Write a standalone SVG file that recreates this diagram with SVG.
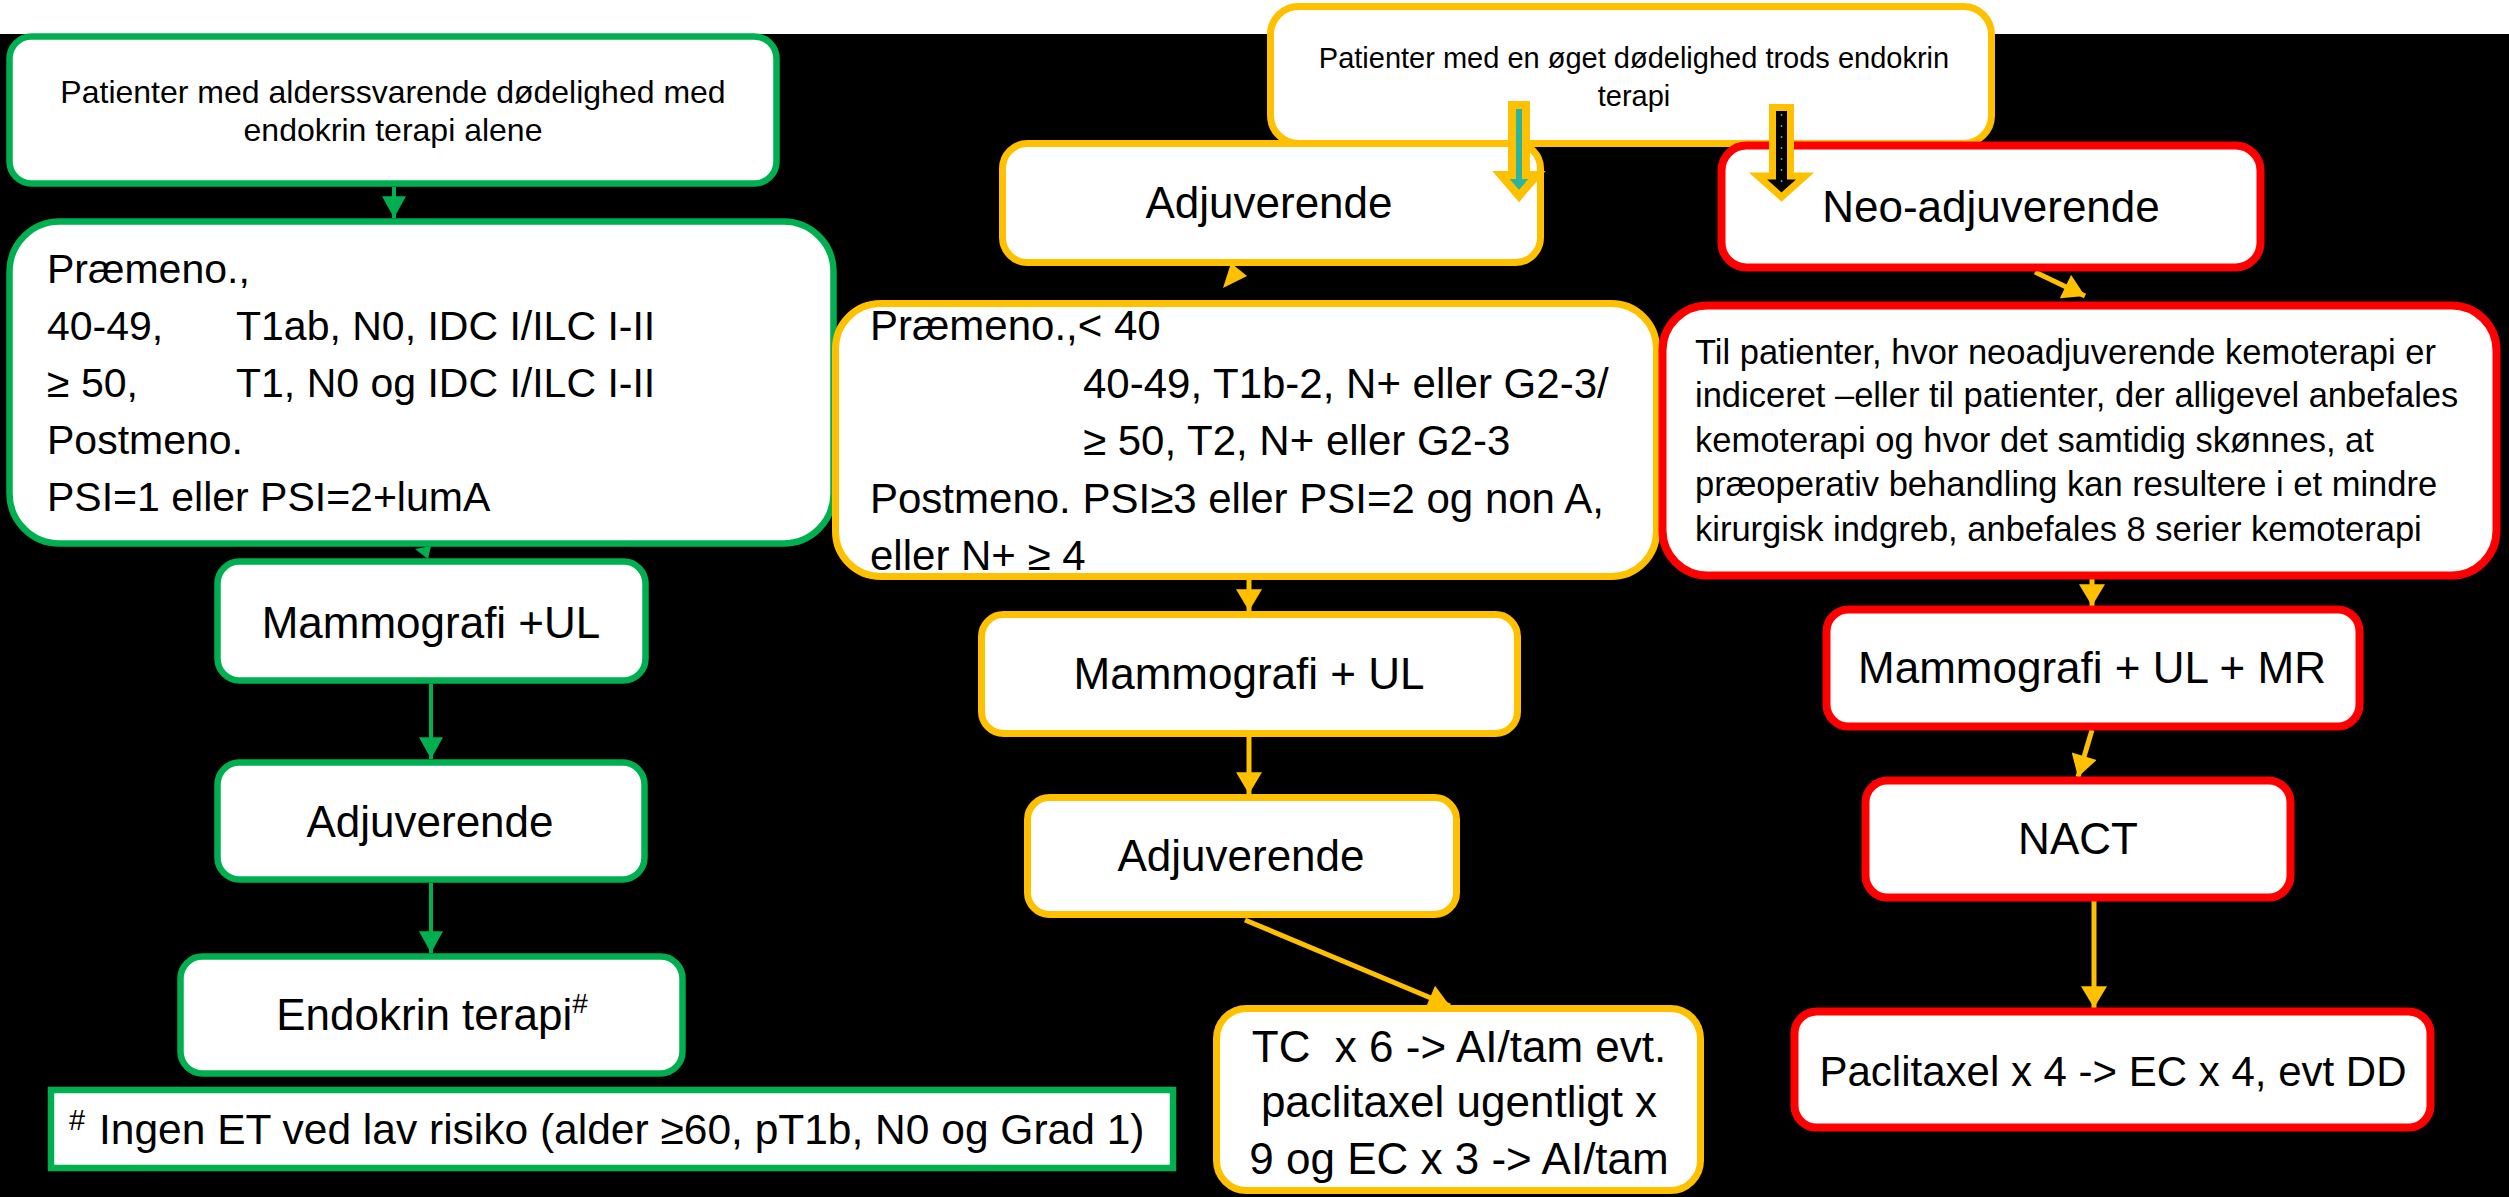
<svg xmlns="http://www.w3.org/2000/svg" width="2509" height="1197" viewBox="0 0 2509 1197">
<defs>
<style>
.g{fill:#fff;stroke:#00B050;stroke-width:6.5}
.y{fill:#fff;stroke:#FFC000;stroke-width:7}
.r{fill:#fff;stroke:#FF0000;stroke-width:8}
text{font-family:"Liberation Sans",Arial,sans-serif;fill:#000}
.s32{font-size:32px}
.s29{font-size:29px}
.s41{font-size:41px}
.s42{font-size:42px}
.s44{font-size:44px}
.s34{font-size:34.5px}
.m{text-anchor:middle}
.cg{stroke:#00B050;stroke-width:4;fill:none}
.cy{stroke:#FFC000;stroke-width:5;fill:none}
</style>
<marker id="ag" markerUnits="userSpaceOnUse" markerWidth="24" markerHeight="24" viewBox="0 0 20 22" refX="20" refY="11" orient="auto">
<path d="M0,0 L20,11 L0,22 Z" fill="#00B050"/>
</marker>
<marker id="ay" markerUnits="userSpaceOnUse" markerWidth="24" markerHeight="26" viewBox="0 0 20 24" refX="20" refY="12" orient="auto">
<path d="M0,0 L20,12 L0,24 Z" fill="#FFC000"/>
</marker>
</defs>
<rect x="0" y="0" width="2509" height="1197" fill="#fff"/>
<rect x="0" y="34" width="2509" height="1163" fill="#000"/>

<g id="connectors">
<line class="cg" x1="394" y1="187" x2="394" y2="218" marker-end="url(#ag)"/>
<polygon points="415,549 431,546 428,559" fill="#00B050"/>
<line class="cg" x1="431" y1="684" x2="431" y2="759" marker-end="url(#ag)"/>
<line class="cg" x1="431" y1="883" x2="431" y2="953" marker-end="url(#ag)"/>
<polygon points="1223,288 1231,263 1247,276" fill="#FFC000"/>
<line class="cy" x1="1249" y1="580" x2="1249" y2="611" marker-end="url(#ay)"/>
<line class="cy" x1="1249" y1="737" x2="1249" y2="794" marker-end="url(#ay)"/>
<line class="cy" x1="1245" y1="920" x2="1450" y2="1006" stroke-width="6.5" marker-end="url(#ay)"/>
<line class="cy" x1="2035" y1="272" x2="2085" y2="296" marker-end="url(#ay)"/>
<line class="cy" x1="2092" y1="579" x2="2092" y2="606" marker-end="url(#ay)"/>
<line class="cy" x1="2092" y1="730" x2="2078" y2="777" marker-end="url(#ay)"/>
<line class="cy" x1="2094" y1="901" x2="2094" y2="1008" marker-end="url(#ay)"/>
</g>

<g id="g1">
<rect class="g" x="9.5" y="36.5" width="767" height="147" rx="22"/>
<text class="s32 m" x="393" y="103">Patienter med alderssvarende dødelighed med</text>
<text class="s32 m" x="393" y="141">endokrin terapi alene</text>
</g>
<g id="g2">
<rect class="g" x="9.5" y="221.5" width="824" height="322" rx="50"/>
<text class="s41" x="47" y="283">Præmeno.,</text>
<text class="s41" x="47" y="340">40-49,</text>
<text class="s41" x="236" y="340">T1ab, N0, IDC I/ILC I-II</text>
<text class="s41" x="47" y="397">≥ 50,</text>
<text class="s41" x="236" y="397">T1, N0 og IDC I/ILC I-II</text>
<text class="s41" x="47" y="454">Postmeno.</text>
<text class="s41" x="47" y="511">PSI=1 eller PSI=2+lumA</text>
</g>
<g id="g3">
<rect class="g" x="217.5" y="561.5" width="428" height="119" rx="22"/>
<text class="s44 m" x="431" y="638">Mammografi +UL</text>
</g>
<g id="g4">
<rect class="g" x="217.5" y="762.5" width="427" height="117" rx="22"/>
<text class="s44 m" x="430" y="837">Adjuverende</text>
</g>
<g id="g5">
<rect class="g" x="180.5" y="956.5" width="502" height="117" rx="22"/>
<text class="s44 m" x="432" y="1030">Endokrin terapi<tspan font-size="28" dy="-17">#</tspan></text>
</g>
<g id="footnote">
<rect x="51" y="1090" width="1122" height="78" fill="#fff" stroke="#00B050" stroke-width="6.5"/>
<text x="69" y="1130" font-size="29">#</text>
<text x="99" y="1144" font-size="42.5">Ingen ET ved lav risiko (alder ≥60, pT1b, N0 og Grad 1)</text>
</g>

<g id="y1">
<rect class="y" x="1270.5" y="6.5" width="721" height="137" rx="28"/>
<text class="s29 m" x="1634" y="68">Patienter med en øget dødelighed trods endokrin</text>
<text class="s29 m" x="1634" y="106">terapi</text>
</g>
<g id="y2">
<rect class="y" x="1002.5" y="143.5" width="538" height="119" rx="25"/>
<text class="s44 m" x="1269" y="218">Adjuverende</text>
</g>
<g id="y3">
<rect class="y" x="835.5" y="303.5" width="821" height="273" rx="45"/>
<text class="s42" x="870" y="340">Præmeno.,&lt; 40</text>
<text class="s42" x="1083" y="398">40-49, T1b-2, N+ eller G2-3/</text>
<text class="s42" x="1083" y="455">≥ 50, T2, N+ eller G2-3</text>
<text class="s42" x="870" y="513">Postmeno. PSI≥3 eller PSI=2 og non A,</text>
<text class="s42" x="870" y="570">eller N+ ≥ 4</text>
</g>
<g id="y4">
<rect class="y" x="981.5" y="614.5" width="536" height="119" rx="22"/>
<text class="s44 m" x="1249" y="689">Mammografi + UL</text>
</g>
<g id="y5">
<rect class="y" x="1027.5" y="797.5" width="429" height="117" rx="22"/>
<text class="s44 m" x="1241" y="871">Adjuverende</text>
</g>
<g id="y6">
<rect class="y" x="1216.5" y="1008.5" width="484" height="182" rx="30"/>
<text class="s44 m" x="1459" y="1062">TC&#160; x 6 -&gt; AI/tam evt.</text>
<text class="s44 m" x="1459" y="1117">paclitaxel ugentligt x</text>
<text class="s44 m" x="1459" y="1174">9 og EC x 3 -&gt; AI/tam</text>
</g>

<g id="r1">
<rect class="r" x="1721.5" y="145.5" width="539" height="122" rx="25"/>
<text class="s44 m" x="1991" y="222">Neo-adjuverende</text>
</g>
<g id="r2">
<rect class="r" x="1662.5" y="305.5" width="834" height="270" rx="45"/>
<text class="s34" x="1695" y="364">Til patienter, hvor neoadjuverende kemoterapi er</text>
<text class="s34" x="1695" y="407">indiceret –eller til patienter, der alligevel anbefales</text>
<text class="s34" x="1695" y="452">kemoterapi og hvor det samtidig skønnes, at</text>
<text class="s34" x="1695" y="496">præoperativ behandling kan resultere i et mindre</text>
<text class="s34" x="1695" y="541">kirurgisk indgreb, anbefales 8 serier kemoterapi</text>
</g>
<g id="r3">
<rect class="r" x="1826.5" y="609.5" width="533" height="117" rx="22"/>
<text class="s44 m" x="2092" y="683">Mammografi + UL + MR</text>
</g>
<g id="r4">
<rect class="r" x="1865.5" y="780.5" width="425" height="117" rx="22"/>
<text class="s44 m" x="2078" y="854">NACT</text>
</g>
<g id="r5">
<rect class="r" x="1794.5" y="1011.5" width="636" height="116" rx="22"/>
<text class="s42 m" x="2113" y="1086">Paclitaxel x 4 -&gt; EC x 4, evt DD</text>
</g>

<g id="block-arrows">
<polygon points="1512,105 1526,105 1526,175 1537,175 1519,196 1501,175 1512,175" fill="#2CB59E" stroke="#FFC000" stroke-width="8" stroke-linejoin="miter"/>
<polygon points="1772.5,107.5 1790.5,107.5 1790.5,176 1805,176 1781.5,197 1758,176 1772.5,176" fill="#000" stroke="#FFC000" stroke-width="7" stroke-linejoin="miter"/>
<line x1="1781.5" y1="114" x2="1781.5" y2="186" stroke="#2CB59E" stroke-width="1.5" stroke-dasharray="2 9"/>
</g>
</svg>
